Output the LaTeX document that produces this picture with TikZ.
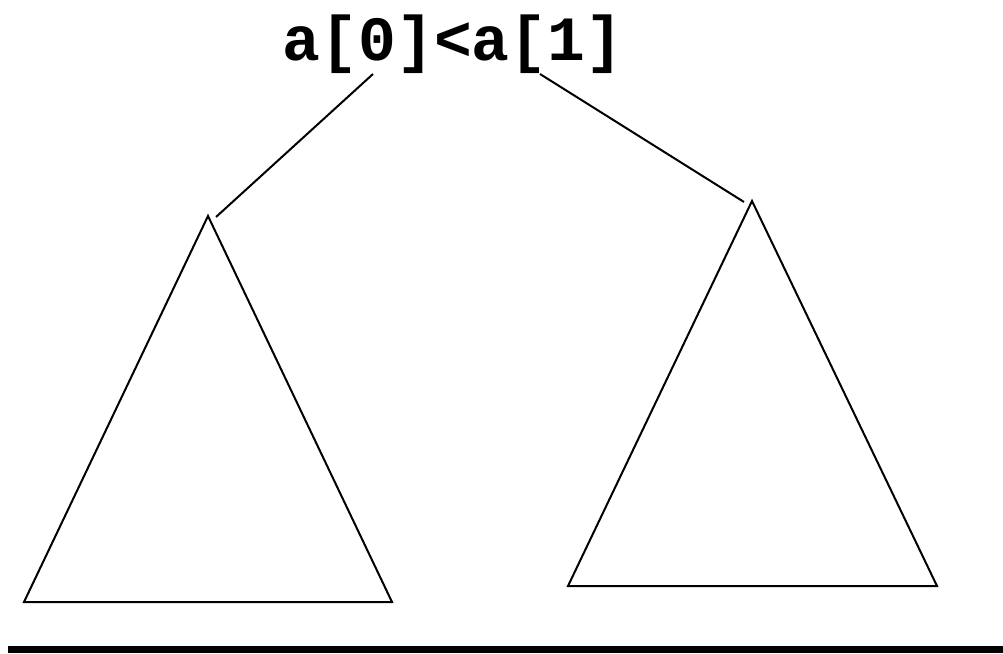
\documentclass[tikz,border=0pt]{standalone}
\usepackage{fontspec}
\setmonofont{Liberation Mono}
\usepackage{tikz}
\usetikzlibrary{positioning,calc}

\begin{document}
\begin{tikzpicture}[
    x=1pt, y=-1pt,
    edge/.style={line width=2pt},
    subtree/.style={line width=2pt, line join=miter},
    test/.style={font=\ttfamily\bfseries\fontsize{63}{63}\selectfont, inner sep=0pt, anchor=base}
]
    \useasboundingbox (0,0) rectangle (1003,653);

    % Comparison
    \node[test] (cmp) at (453,60) {a[0]<a[1]};
    \coordinate (lstart) at (373,74);
    \coordinate (rstart) at (540,74);

    % Subtrees
    \coordinate (ltop) at (208,216);
    \coordinate (lleft) at (24,602);
    \coordinate (lright) at (392,602);
    \coordinate (rtop) at (752,201);
    \coordinate (rleft) at (568,586);
    \coordinate (rright) at (937,586);
    \draw[subtree] (ltop) -- (lleft) -- (lright) -- cycle;
    \draw[subtree] (rtop) -- (rleft) -- (rright) -- cycle;

    % Branches
    \draw[edge] (lstart) -- ($(ltop)+(8,1)$);
    \draw[edge] (rstart) -- ($(rtop)+(-8,1)$);

    % Ground bar
    \fill (8,646) rectangle (1003,653);
\end{tikzpicture}
\end{document}
